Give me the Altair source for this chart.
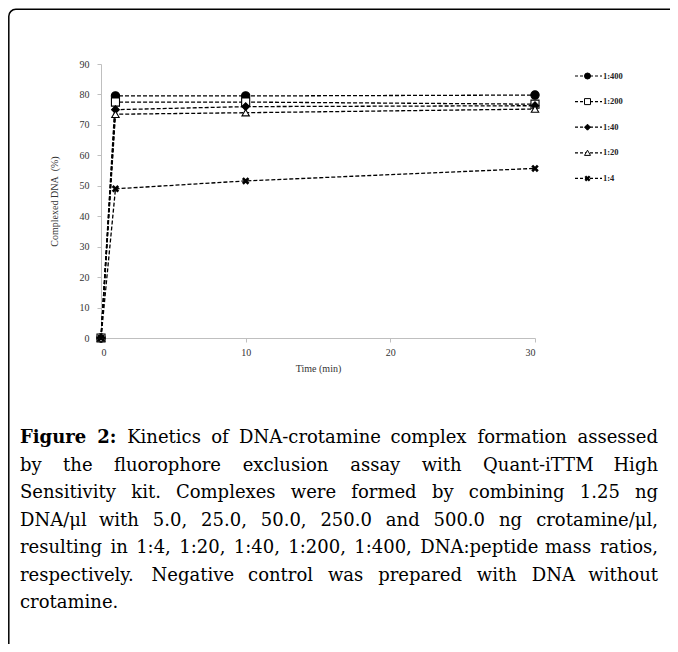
import altair as alt
import pandas as pd

# ---------------- data ----------------
series = ["1:400", "1:200", "1:40", "1:20", "1:4"]
times = [0, 1, 10, 30]
v_400 = [0, 79.5, 79.5, 79.8]
v_200 = [0, 77.5, 77.5, 76.8]
v_40 = [0, 75.0, 76.0, 76.3]
v_20 = [0, 73.5, 74.0, 75.2]
v_4 = [0, 49.0, 51.6, 55.7]

x_ticks = [0, 10, 20, 30]
y_ticks = [0, 10, 20, 30, 40, 50, 60, 70, 80, 90]

caption_bold = ["Figure", "2:"]
caption_lines = [
    "Kinetics of DNA-crotamine complex formation assessed",
    "by the fluorophore exclusion assay with Quant-iTTM High",
    "Sensitivity kit. Complexes were formed by combining 1.25 ng",
    "DNA/\u03bcl with 5.0, 25.0, 50.0, 250.0 and 500.0 ng crotamine/\u03bcl,",
    "resulting in 1:4, 1:20, 1:40, 1:200, 1:400, DNA:peptide mass ratios,",
    "respectively. Negative control was prepared with DNA without",
    "crotamine.",
]

values = [v_400, v_200, v_40, v_20, v_4]
rows = []
for s, vals in zip(series, values):
    for t, v in zip(times, vals):
        rows.append({"series": s, "time": t, "value": v})
df = pd.DataFrame(rows)
df_main = df[df["series"] != "1:4"]
df_x = df[df["series"] == "1:4"]

# ---------------- styling ----------------
W, H = 434, 274
SERIF = "Liberation Serif"
CAP_FONT = "DejaVu Serif"
CAP_SIZE = 18
x_path = "M-0.8,-0.8L0.8,0.8M-0.8,0.8L0.8,-0.8"
shape_scale = alt.Scale(domain=series, range=["circle", "square", "diamond", "triangle-up", x_path])
fill_scale = alt.Scale(domain=series, range=["black", "white", "black", "white", "black"])
size_scale = alt.Scale(domain=series, range=[70, 50, 40, 60, 55])

x_enc = alt.X(
    "time:Q",
    scale=alt.Scale(domain=[0, 30], nice=False),
    axis=alt.Axis(values=x_ticks, title="Time (min)", labelPadding=5, titlePadding=6),
)
y_enc = alt.Y(
    "value:Q",
    scale=alt.Scale(domain=[0, 90], nice=False),
    axis=alt.Axis(values=y_ticks, title="Complexed DNA\u00a0\u00a0(%)", labelPadding=8, titlePadding=20),
)

lines = alt.Chart(df).mark_line(strokeDash=[4, 2], strokeWidth=1.3, color="black").encode(
    x=x_enc, y=y_enc, detail="series:N", order="time:Q"
)

points = alt.Chart(df_main).mark_point(filled=True, stroke="black", strokeWidth=1.1, opacity=1).encode(
    x=x_enc,
    y=y_enc,
    shape=alt.Shape("series:N", scale=shape_scale, legend=None),
    fill=alt.Fill("series:N", scale=fill_scale, legend=None),
    size=alt.Size("series:N", scale=size_scale, legend=None),
)
points_x = alt.Chart(df_x).mark_point(
    shape=x_path, filled=False, stroke="black", strokeWidth=2.6, size=50, opacity=1
).encode(x=x_enc, y=y_enc)

one = pd.DataFrame({"k": [0]})
layers = [lines, points, points_x]

# manual legend (to the right of the plot)
for i, s in enumerate(series):
    yy = 12 + 25.6 * i
    ldf = pd.DataFrame({"series": [s]})
    layers.append(
        alt.Chart(ldf).mark_rule(strokeDash=[3, 2], strokeWidth=1.2, color="black").encode(
            x=alt.value(474), x2=alt.value(501), y=alt.value(yy)
        )
    )
    if s == "1:4":
        layers.append(
            alt.Chart(ldf).mark_point(shape=x_path, filled=False, stroke="black", strokeWidth=2.3, size=30, opacity=1).encode(
                x=alt.value(486.5), y=alt.value(yy)
            )
        )
    else:
        layers.append(
            alt.Chart(ldf).mark_point(filled=True, stroke="black", strokeWidth=1, opacity=1).encode(
                x=alt.value(486.5),
                y=alt.value(yy),
                shape=alt.Shape("series:N", scale=shape_scale, legend=None),
                fill=alt.Fill("series:N", scale=fill_scale, legend=None),
                size=alt.value(36),
            )
        )
    layers.append(
        alt.Chart(ldf).mark_text(
            align="left", baseline="middle", font=SERIF, fontSize=8.5, fontWeight="bold", color="#222"
        ).encode(x=alt.value(502), y=alt.value(yy - 0.5), text="series:N")
    )

# ---------------- caption (justified, word by word) ----------------
# approximate DejaVu Serif advance widths (units per 2048 em)
DW = {" ": 651, ".": 651, ",": 651, ":": 690, "-": 739, "/": 690, "\u03bc": 1329}
DW.update({c: 1303 for c in "0123456789"})
DW.update(dict(zip("abcdefghijklmnopqrstuvwxyz",
                   [1221, 1303, 1147, 1303, 1219, 759, 1303, 1323, 655, 641, 1247, 655, 1975,
                    1323, 1231, 1303, 1303, 981, 1049, 823, 1323, 1179, 1759, 1205, 1179, 1089])))
DW.update(dict(zip("ABCDEFGHIJKLMNOPQRSTUVWXYZ",
                   [1479, 1403, 1495, 1581, 1405, 1307, 1593, 1743, 827, 844, 1520, 1321, 1958,
                    1669, 1612, 1303, 1612, 1483, 1384, 1405, 1637, 1479, 2147, 1479, 1405, 1413])))


def est(word, bold=False):
    w = sum(DW.get(c, 1250) for c in word) / 2048.0 * CAP_SIZE
    return w * (1.12 if bold else 1.0)


cap_x0, cap_x1 = -81, 557
cap_y0, cap_dy = 379, 27.5
left_rows, bold_rows, right_rows = [], [], []
for i, line in enumerate(caption_lines):
    toks = [(w, False) for w in line.split(" ")]
    if i == 0:
        toks = [(w, True) for w in caption_bold] + toks
    yy = cap_y0 + cap_dy * i
    widths = [est(w, b) for w, b in toks]
    justify = i < len(caption_lines) - 1 and len(toks) > 1
    if justify:
        gap = (cap_x1 - cap_x0 - sum(widths)) / (len(toks) - 1)
    else:
        gap = est(" ")
    xx = cap_x0
    for k, ((w, b), wd) in enumerate(zip(toks, widths)):
        if justify and k == len(toks) - 1:
            right_rows.append({"t": w, "px": cap_x1, "py": yy})
        elif b:
            bold_rows.append({"t": w, "px": xx, "py": yy})
        else:
            left_rows.append({"t": w, "px": xx, "py": yy})
        xx += wd + gap


def cap_layer(rows_, align, weight):
    return alt.Chart(pd.DataFrame(rows_)).mark_text(
        align=align, baseline="alphabetic", font=CAP_FONT, fontSize=CAP_SIZE, fontWeight=weight, color="black"
    ).encode(
        x=alt.X("px:Q", scale=None, axis=None),
        y=alt.Y("py:Q", scale=None, axis=None),
        text="t:N",
    )


layers += [cap_layer(left_rows, "left", "normal"), cap_layer(bold_rows, "left", "bold"),
           cap_layer(right_rows, "right", "normal")]

# frame (top and left edges, rounded top-left corner)
layers.append(
    alt.Chart(one).mark_rect(cornerRadiusTopLeft=7, fillOpacity=0, stroke="black", strokeWidth=1.5).encode(
        x=alt.value(-92.2), x2=alt.value(600), y=alt.value(-54.7), y2=alt.value(700)
    )
)

chart = (
    alt.layer(*layers)
    .properties(
        width=W,
        height=H,
        autosize=alt.AutoSizeParams(type="none"),
        padding={"left": 93, "top": 56, "right": 135, "bottom": 306},
        background="white",
    )
    .configure_view(stroke=None)
    .configure_axis(
        grid=False,
        domainColor="#bfbfbf",
        tickColor="#bfbfbf",
        tickSize=4,
        labelFont=SERIF,
        labelFontSize=10,
        labelColor="#333333",
        titleFont=SERIF,
        titleFontSize=10,
        titleFontWeight="normal",
        titleColor="#333333",
    )
)

chart.save("out.html", embed_options={"renderer": "svg", "actions": False})
